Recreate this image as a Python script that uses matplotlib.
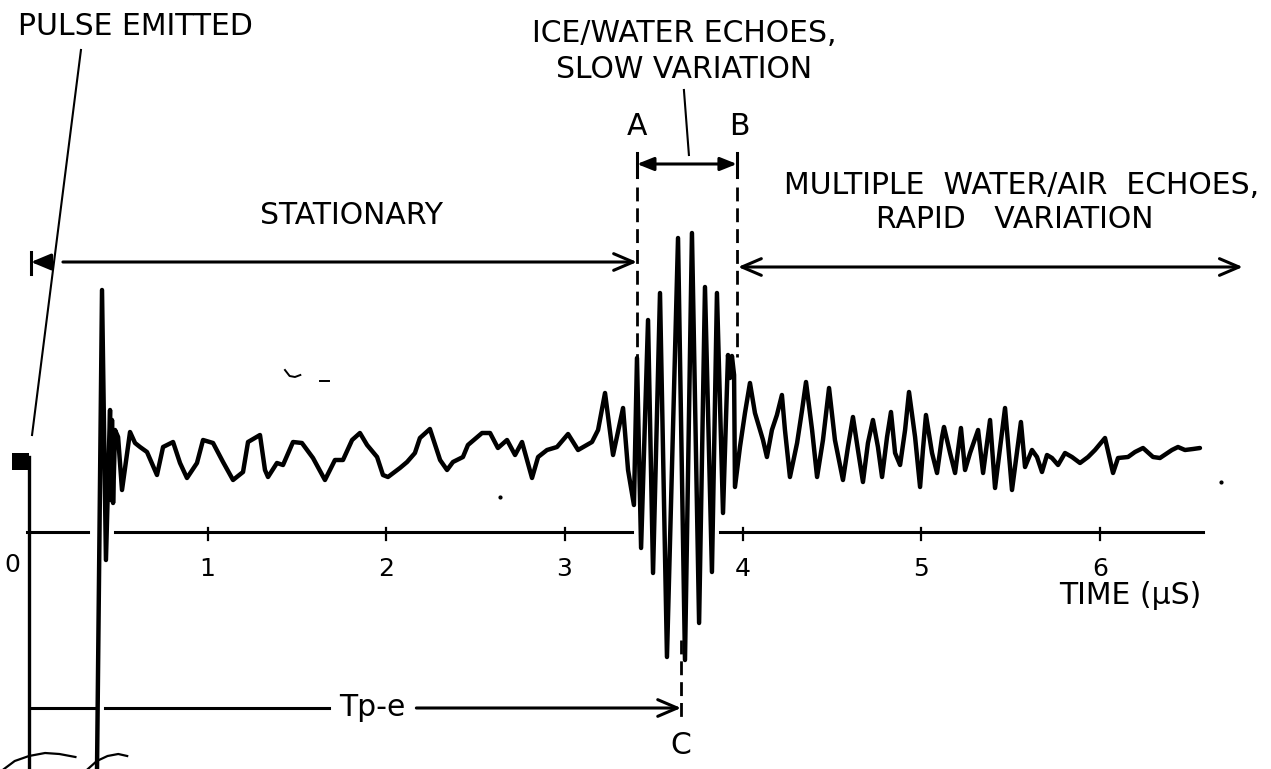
import matplotlib.pyplot as plt
from matplotlib.patches import Rectangle

# echo trace: time in microseconds, amplitude in arbitrary units
# (0 = the time axis, positive is up)
t_echo = [0.381, 0.409, 0.431, 0.454, 0.459, 0.465, 0.471, 0.482, 0.499, 0.521,
          0.566, 0.594, 0.622, 0.661, 0.717, 0.751, 0.807, 0.846, 0.885, 0.941,
          0.975, 1.031, 1.087, 1.143, 1.199, 1.227, 1.294, 1.322, 1.339, 1.389,
          1.423, 1.479, 1.529, 1.591, 1.658, 1.714, 1.759, 1.810, 1.854, 1.894,
          1.950, 1.983, 2.011, 2.078, 2.118, 2.162, 2.190, 2.246, 2.303, 2.342,
          2.375, 2.431, 2.459, 2.538, 2.583, 2.627, 2.678, 2.723, 2.762, 2.818,
          2.852, 2.902, 2.958, 3.020, 3.076, 3.154, 3.188, 3.227, 3.272, 3.328,
          3.356, 3.389, 3.406, 3.429, 3.468, 3.496, 3.535, 3.574, 3.636, 3.675,
          3.714, 3.754, 3.787, 3.826, 3.854, 3.888, 3.916, 3.927, 3.938, 3.950,
          3.955, 3.983, 4.011, 4.039, 4.067, 4.095, 4.112, 4.134, 4.162, 4.190,
          4.218, 4.235, 4.263, 4.303, 4.331, 4.353, 4.387, 4.415, 4.448, 4.482,
          4.515, 4.560, 4.588, 4.616, 4.644, 4.672, 4.700, 4.728, 4.756, 4.779,
          4.807, 4.829, 4.852, 4.880, 4.908, 4.930, 4.964, 4.992, 5.008, 5.025,
          5.059, 5.087, 5.115, 5.126, 5.160, 5.188, 5.221, 5.244, 5.272, 5.317,
          5.345, 5.384, 5.412, 5.468, 5.507, 5.557, 5.580, 5.619, 5.647, 5.675,
          5.703, 5.731, 5.765, 5.804, 5.843, 5.888, 5.933, 5.972, 6.028, 6.073,
          6.101, 6.157, 6.196, 6.241, 6.297, 6.336, 6.403, 6.437, 6.476, 6.521,
          6.560]
a_echo = [-2.37, 2.42, -0.28, 1.22, 0.32, 1.12, 0.29, 1.02, 0.95, 0.42,
          1.00, 0.89, 0.85, 0.80, 0.57, 0.85, 0.90, 0.69, 0.54, 0.69,
          0.92, 0.89, 0.70, 0.52, 0.60, 0.90, 0.97, 0.62, 0.55, 0.69,
          0.67, 0.90, 0.89, 0.74, 0.52, 0.72, 0.72, 0.92, 0.99, 0.87,
          0.75, 0.57, 0.55, 0.64, 0.70, 0.79, 0.94, 1.03, 0.72, 0.62,
          0.70, 0.75, 0.87, 0.99, 0.99, 0.84, 0.92, 0.77, 0.90, 0.54,
          0.75, 0.82, 0.85, 0.98, 0.82, 0.90, 1.02, 1.39, 0.77, 1.24,
          0.62, 0.27, 1.74, -0.16, 2.12, -0.41, 2.39, -1.25, 2.94, -1.28,
          2.99, -0.91, 2.45, -0.40, 2.39, 0.19, 1.77, 1.54, 1.76, 1.57,
          0.45, 0.85, 1.19, 1.49, 1.19, 1.02, 0.92, 0.75, 1.02, 1.17,
          1.37, 1.02, 0.55, 0.89, 1.22, 1.50, 1.02, 0.55, 0.92, 1.44,
          0.92, 0.52, 0.85, 1.15, 0.82, 0.50, 0.89, 1.12, 0.85, 0.55,
          0.95, 1.20, 0.79, 0.67, 1.02, 1.40, 0.95, 0.45, 0.82, 1.17,
          0.79, 0.59, 0.95, 1.05, 0.79, 0.59, 1.04, 0.62, 0.79, 1.02,
          0.59, 1.12, 0.44, 1.24, 0.42, 1.10, 0.65, 0.82, 0.75, 0.60,
          0.77, 0.74, 0.67, 0.79, 0.75, 0.69, 0.75, 0.82, 0.94, 0.59,
          0.74, 0.75, 0.80, 0.84, 0.75, 0.74, 0.82, 0.85, 0.82, 0.83,
          0.84]

# emitted pulse: level and width of the block drawn before t = 0
pulse_level = 0.705
pulse_width = 0.095

tick_pos = [1, 2, 3, 4, 5, 6]
tick_labels = ['1', '2', '3', '4', '5', '6']

t_a, t_b, t_c = 3.406, 3.966, 3.653   # markers A, B, C
t_end = 6.80                           # end of the "rapid variation" arrow

LW = 2.2
FS = 21.5

fig = plt.figure(figsize=(12.71, 7.69), dpi=100)
ax = fig.add_axes([0, 0, 1, 1])
ax.set_xlim(-0.1625, 6.958)
ax.set_ylim(-2.37, 5.32)
ax.axis('off')

# time axis, broken where the big spikes cross it
for x0, x1 in [(-0.01, 0.33), (0.48, 3.378), (3.871, 6.577)]:
    ax.plot([x0, x1], [0, 0], color='black', lw=LW)
for p, lab in zip(tick_pos, tick_labels):
    ax.plot([p, p], [0.04, -0.08], color='black', lw=1.6)
    ax.text(p, -0.37, lab, ha='center', va='center', fontsize=18)
ax.text(-0.095, -0.33, '0', ha='center', va='center', fontsize=18)
ax.text(6.168, -0.64, 'TIME (\u00b5S)', ha='center', va='center', fontsize=FS)

# pulse
ax.add_patch(Rectangle((-pulse_width, pulse_level - 0.085), pulse_width, 0.17,
                       color='black', lw=0))
ax.plot([0, 0], [pulse_level + 0.05, -2.37], color='black', lw=2.4)
ax.text(-0.062, 5.06, 'PULSE EMITTED', ha='left', va='center', fontsize=FS)
ax.plot([0.017, 0.291], [0.97, 4.82], color='black', lw=1.5)

# echo trace
ax.plot(t_echo, a_echo, color='black', lw=3.2, solid_joinstyle='round',
        solid_capstyle='round')

# stray marks on the scan
ax.plot([1.434, 1.46, 1.49, 1.52], [1.62, 1.56, 1.55, 1.57], color='black', lw=1.4)
ax.plot([1.63, 1.68], [1.51, 1.51], color='black', lw=1.4)
ax.plot([2.64], [0.35], marker='o', ms=2, color='black')
ax.plot([6.68], [0.50], marker='o', ms=2, color='black')

arrow_open = dict(arrowstyle='->, head_length=0.7, head_width=0.3',
                  color='black', lw=LW, shrinkA=0, shrinkB=0, mutation_scale=20)
arrow_both = dict(arrowstyle='<->, head_length=0.7, head_width=0.3',
                  color='black', lw=LW, shrinkA=0, shrinkB=0, mutation_scale=20)
arrow_fill = dict(arrowstyle='-|>, head_length=0.6, head_width=0.25',
                  color='black', lw=LW, shrinkA=0, shrinkB=0, mutation_scale=20)

# stationary span
ax.text(1.804, 3.16, 'STATIONARY', ha='center', va='center', fontsize=FS)
ax.plot([0.011, 0.011], [2.80, 2.58], color='black', lw=LW)
ax.annotate('', xy=(0.011, 2.70), xytext=(0.11, 2.70), arrowprops=arrow_fill)
ax.annotate('', xy=(t_a, 2.70), xytext=(0.19, 2.70), arrowprops=arrow_open)

# A-B span
ax.text(3.669, 4.98, 'ICE/WATER ECHOES,', ha='center', va='center', fontsize=FS)
ax.text(3.669, 4.62, 'SLOW VARIATION', ha='center', va='center', fontsize=FS)
ax.plot([3.669, 3.697], [4.42, 3.77], color='black', lw=1.5)
ax.text(t_a, 4.06, 'A', ha='center', va='center', fontsize=FS)
ax.text(t_b + 0.012, 4.06, 'B', ha='center', va='center', fontsize=FS)
ax.annotate('', xy=(t_a, 3.68), xytext=(t_b, 3.68),
            arrowprops=dict(arrowstyle='<|-|>, head_length=0.5, head_width=0.2',
                            color='black', lw=LW, shrinkA=0, shrinkB=0,
                            mutation_scale=20))
for x in (t_a, t_b):
    ax.plot([x, x], [3.79, 3.55], color='black', lw=LW)
    ax.plot([x, x], [3.45, 1.75], color='black', lw=2.0, linestyle=(0, (5, 2.5)))

# rapid variation span
ax.text(5.563, 3.47, 'MULTIPLE  WATER/AIR  ECHOES,', ha='center', va='center',
        fontsize=FS)
ax.text(5.524, 3.12, 'RAPID   VARIATION', ha='center', va='center', fontsize=FS)
ax.annotate('', xy=(3.972, 2.65), xytext=(t_end, 2.65), arrowprops=arrow_both)

# pulse-to-echo time
ax.plot([0.011, 0.37], [-1.76, -1.76], color='black', lw=LW)
ax.plot([0.426, 1.68], [-1.76, -1.76], color='black', lw=LW)
ax.text(1.922, -1.76, 'Tp-e', ha='center', va='center', fontsize=FS)
ax.annotate('', xy=(t_c, -1.76), xytext=(2.17, -1.76), arrowprops=arrow_open)
ax.plot([t_c, t_c], [-1.08, -1.90], color='black', lw=2.0, linestyle=(0, (5, 2.5)))
ax.text(t_c, -2.13, 'C', ha='center', va='center', fontsize=FS)

# break symbols at the foot of the two long lines
ax.plot([-0.14, -0.08, 0.0, 0.09, 0.17, 0.26],
        [-2.37, -2.29, -2.24, -2.21, -2.22, -2.25], color='black', lw=1.6)
ax.plot([0.33, 0.38, 0.44, 0.50, 0.55],
        [-2.37, -2.29, -2.24, -2.22, -2.24], color='black', lw=1.6)

fig.savefig('out.png', dpi=100)
